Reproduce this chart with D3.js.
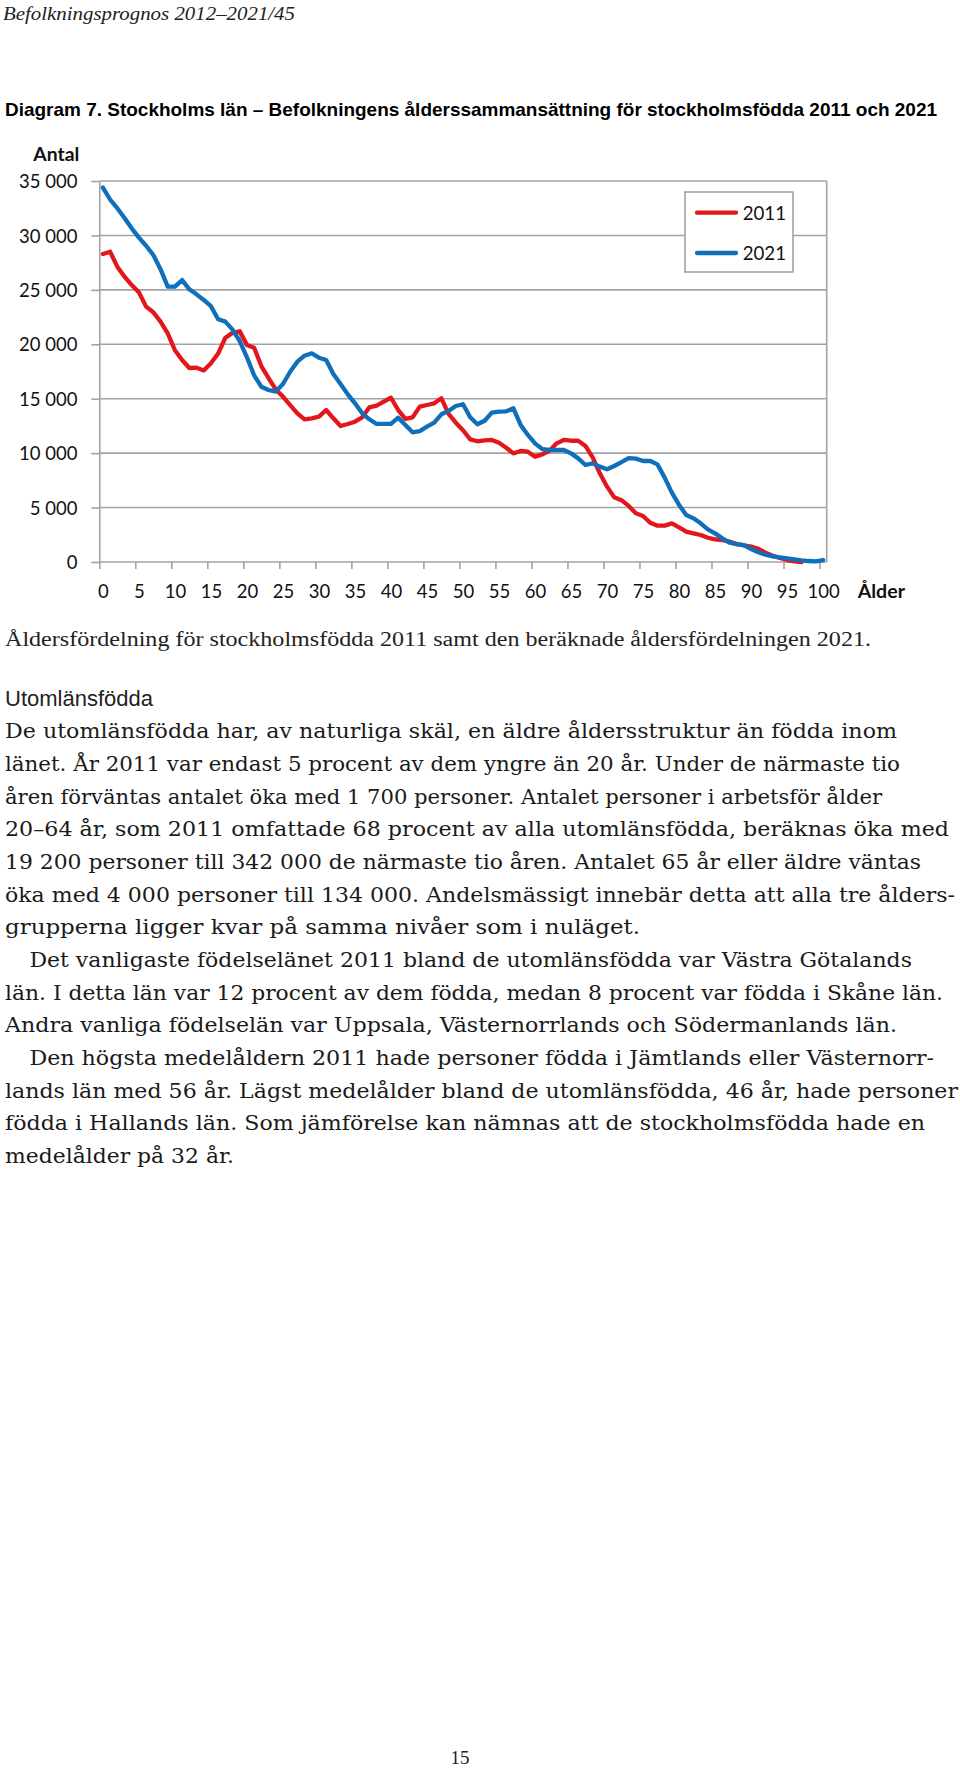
<!DOCTYPE html>
<html><head><meta charset="utf-8">
<script src="https://cdn.jsdelivr.net/npm/d3@7"></script>
<style>body{margin:0;background:#fff} svg{display:block}</style>
</head><body><svg id="c" width="960" height="1768"></svg>
<script>
// ---------- data ----------
const ages = d3.range(0, 101);
const seriesNames = ["2011", "2021"];
const values2011 = [
  28300,28500,27130,26210,25440,24770,23460,22940,22080,21010,
  19450,18560,17820,17850,17600,18250,19150,20600,21050,21200,
  19930,19690,18000,16900,15850,15190,14420,13660,13110,13200,
  13350,13960,13200,12490,12680,12890,13290,14210,14360,14730,
  15090,13960,13140,13290,14270,14420,14580,15040,13600,12800,
  12100,11270,11090,11180,11210,10960,10500,9980,10200,10130,
  9670,9890,10220,10900,11210,11140,11140,10660,9610,8150,
  6920,5940,5680,5150,4470,4230,3610,3340,3340,3550,
  3180,2790,2630,2480,2230,2080,2020,1870,1650,1530,
  1410,1220,860,580,370,180,60,0
];
const values2021 = [
  34400,33300,32500,31600,30650,29800,29050,28200,26900,25300,
  25300,25900,25050,24590,24070,23500,22300,22080,21350,20300,
  18800,17150,16100,15800,15650,16350,17480,18400,18950,19170,
  18770,18560,17270,16350,15400,14580,13660,13110,12680,12680,
  12680,13260,12590,11910,12030,12430,12800,13570,13880,14330,
  14490,13300,12650,12980,13720,13810,13840,14120,12590,11670,
  10900,10380,10290,10290,10290,9980,9520,8910,9060,8760,
  8520,8820,9180,9550,9500,9280,9280,8970,7750,6370,
  5240,4320,4010,3550,3000,2630,2170,1780,1650,1560,
  1190,890,670,520,430,340,250,150,90,60,180
];
const yTickValues = [0,5000,10000,15000,20000,25000,30000,35000];
const yTickLabels = ["0","5 000","10 000","15 000","20 000","25 000","30 000","35 000"];
const xTickValues = [0,5,10,15,20,25,30,35,40,45,50,55,60,65,70,75,80,85,90,95,100];
const xTickLabels = ["0","5","10","15","20","25","30","35","40","45","50","55","60","65","70","75","80","85","90","95","100"];
const colors = ["#e3161c", "#0f6fbb"];

// ---------- layout ----------
const svg = d3.select("#c");
svg.append("rect").attr("width",960).attr("height",1768).attr("fill","#fff");

const L = 99.3, R = 826.7, T = 181, B = 562;
const x = d3.scaleBand().domain(ages).range([L, R]).padding(0);
const xLin = d3.scaleLinear().domain([0, ages.length]).range([L, R]);
const xc = a => x(a) + x.bandwidth() / 2;
const y = d3.scaleLinear().domain([0, 35000]).range([B, T]);
const gridCol = "#a3a3a3";
const sansFont = "Lato, 'Open Sans', sans-serif";

// header
svg.append("text").attr("x",3).attr("y",19.5)
  .attr("font-family","'Liberation Serif', serif").attr("font-style","italic")
  .attr("font-size",19).attr("fill","#222")
  .attr("textLength",292).attr("lengthAdjust","spacingAndGlyphs")
  .text("Befolkningsprognos 2012–2021/45");

// title
svg.append("text").attr("x",5).attr("y",116)
  .attr("font-family","'Liberation Sans Narrow','Liberation Sans', Arial, sans-serif")
  .attr("font-weight","bold").attr("font-size",18.5).attr("fill","#000")
  .attr("textLength",932).attr("lengthAdjust","spacingAndGlyphs")
  .text("Diagram 7. Stockholms län – Befolkningens ålderssammansättning för stockholmsfödda 2011 och 2021");

// gridlines
svg.append("g").selectAll("line").data(yTickValues.filter(v => v > 0)).join("line")
  .attr("x1", L).attr("x2", R).attr("y1", d => y(d)).attr("y2", d => y(d))
  .attr("stroke", gridCol).attr("stroke-width", 1.6);
// right frame
svg.append("line").attr("x1",R).attr("x2",R).attr("y1",T).attr("y2",B)
  .attr("stroke",gridCol).attr("stroke-width",1.6);

// y axis
const yAxis = svg.append("g").attr("transform",`translate(${L},0)`)
  .call(d3.axisLeft(y).tickValues(yTickValues).tickSize(8).tickSizeOuter(0)
    .tickFormat((d,i) => yTickLabels[i]).tickPadding(13.8));
yAxis.selectAll("path,line").attr("stroke",gridCol).attr("stroke-width",1.6);
yAxis.selectAll("text").attr("dy",null).attr("y",6.6)
  .attr("font-family",sansFont).attr("font-size",18.5).attr("fill","#111");

// x axis
const xAxis = svg.append("g").attr("transform",`translate(0,${B})`)
  .call(d3.axisBottom(xLin).tickValues(xTickValues).tickSize(7).tickSizeOuter(0)
    .tickFormat((d,i) => xTickLabels[i]));
xAxis.select("path.domain").attr("d", `M${L},0H${R}`);
xAxis.selectAll("path,line").attr("stroke",gridCol).attr("stroke-width",1.6);
xAxis.selectAll("text").attr("dy",null).attr("y",36).attr("x", x.bandwidth()/2)
  .attr("font-family",sansFont).attr("font-size",18.5).attr("fill","#111");

// axis titles
svg.append("text").attr("x",33.3).attr("y",160.7).attr("font-family",sansFont)
  .attr("font-weight","bold").attr("font-size",19).attr("fill","#111")
  .attr("textLength",46).attr("lengthAdjust","spacingAndGlyphs").text("Antal");
svg.append("text").attr("x",857.7).attr("y",597.5).attr("font-family",sansFont)
  .attr("font-weight","bold").attr("font-size",19).attr("fill","#111")
  .attr("textLength",47.3).attr("lengthAdjust","spacingAndGlyphs").text("Ålder");

// lines
const line = d3.line().x(d => xc(d[0])).y(d => y(d[1]));
[values2011, values2021].forEach((vals, i) => {
  const pts = vals.map((v, k) => [ages[k], v]);
  svg.append("path").attr("d", line(pts)).attr("fill","none")
    .attr("stroke", colors[i]).attr("stroke-width",4.3)
    .attr("stroke-linejoin","round").attr("stroke-linecap","round");
});

// legend
const lg = svg.append("g");
lg.append("rect").attr("x",685).attr("y",192).attr("width",108).attr("height",80)
  .attr("fill","#fff").attr("stroke",gridCol).attr("stroke-width",1.6);
seriesNames.forEach((n, i) => {
  const ly = 212.7 + i * 40.3;
  lg.append("line").attr("x1",697).attr("x2",736).attr("y1",ly).attr("y2",ly)
    .attr("stroke",colors[i]).attr("stroke-width",4.3).attr("stroke-linecap","round");
  lg.append("text").attr("x",742.7).attr("y",ly+7.3).attr("font-family",sansFont)
    .attr("font-size",19).attr("fill","#111")
    .attr("textLength",43.3).attr("lengthAdjust","spacingAndGlyphs").text(n);
});

// caption
svg.append("text").attr("x",5).attr("y",646)
  .attr("font-family","'Liberation Serif', serif").attr("font-size",20.5).attr("fill","#222")
  .attr("textLength",866).attr("lengthAdjust","spacingAndGlyphs")
  .text("Åldersfördelning för stockholmsfödda 2011 samt den beräknade åldersfördelningen 2021.");

// subheading
svg.append("text").attr("x",5).attr("y",705.5)
  .attr("font-family","'Liberation Sans Narrow','Liberation Sans', Arial, sans-serif")
  .attr("font-size",22).attr("fill","#222")
  .attr("textLength",148).attr("lengthAdjust","spacingAndGlyphs")
  .text("Utomlänsfödda");

// body text
const bodyLines = [
  ["De utomlänsfödda har, av naturliga skäl, en äldre åldersstruktur än födda inom", 5, 897],
  ["länet. År 2011 var endast 5 procent av dem yngre än 20 år. Under de närmaste tio", 5, 900],
  ["åren förväntas antalet öka med 1 700 personer. Antalet personer i arbetsför ålder", 5, 882],
  ["20–64 år, som 2011 omfattade 68 procent av alla utomlänsfödda, beräknas öka med", 5, 949],
  ["19 200 personer till 342 000 de närmaste tio åren. Antalet 65 år eller äldre väntas", 5, 921],
  ["öka med 4 000 personer till 134 000. Andelsmässigt innebär detta att alla tre ålders-", 5, 955],
  ["grupperna ligger kvar på samma nivåer som i nuläget.", 5, 640],
  ["Det vanligaste födelselänet 2011 bland de utomlänsfödda var Västra Götalands", 29.4, 912],
  ["län. I detta län var 12 procent av dem födda, medan 8 procent var födda i Skåne län.", 5, 943],
  ["Andra vanliga födelselän var Uppsala, Västernorrlands och Södermanlands län.", 5, 897],
  ["Den högsta medelåldern 2011 hade personer födda i Jämtlands eller Västernorr-", 29.4, 934],
  ["lands län med 56 år. Lägst medelålder bland de utomlänsfödda, 46 år, hade personer", 5, 958],
  ["födda i Hallands län. Som jämförelse kan nämnas att de stockholmsfödda hade en", 5, 925],
  ["medelålder på 32 år.", 5, 234]
];
svg.append("g").selectAll("text").data(bodyLines).join("text")
  .attr("x", d => d[1]).attr("y", (d,i) => 738.4 + i * 32.65)
  .attr("font-family","'DejaVu Serif', serif").attr("font-size",21).attr("fill","#1a1a1a")
  .attr("textLength", d => d[2] - d[1]).attr("lengthAdjust","spacingAndGlyphs")
  .text(d => d[0]);

// page number
svg.append("text").attr("x",460).attr("y",1764).attr("text-anchor","middle")
  .attr("font-family","'Liberation Serif', serif").attr("font-size",19).attr("fill","#222")
  .text("15");
</script>
</body></html>
